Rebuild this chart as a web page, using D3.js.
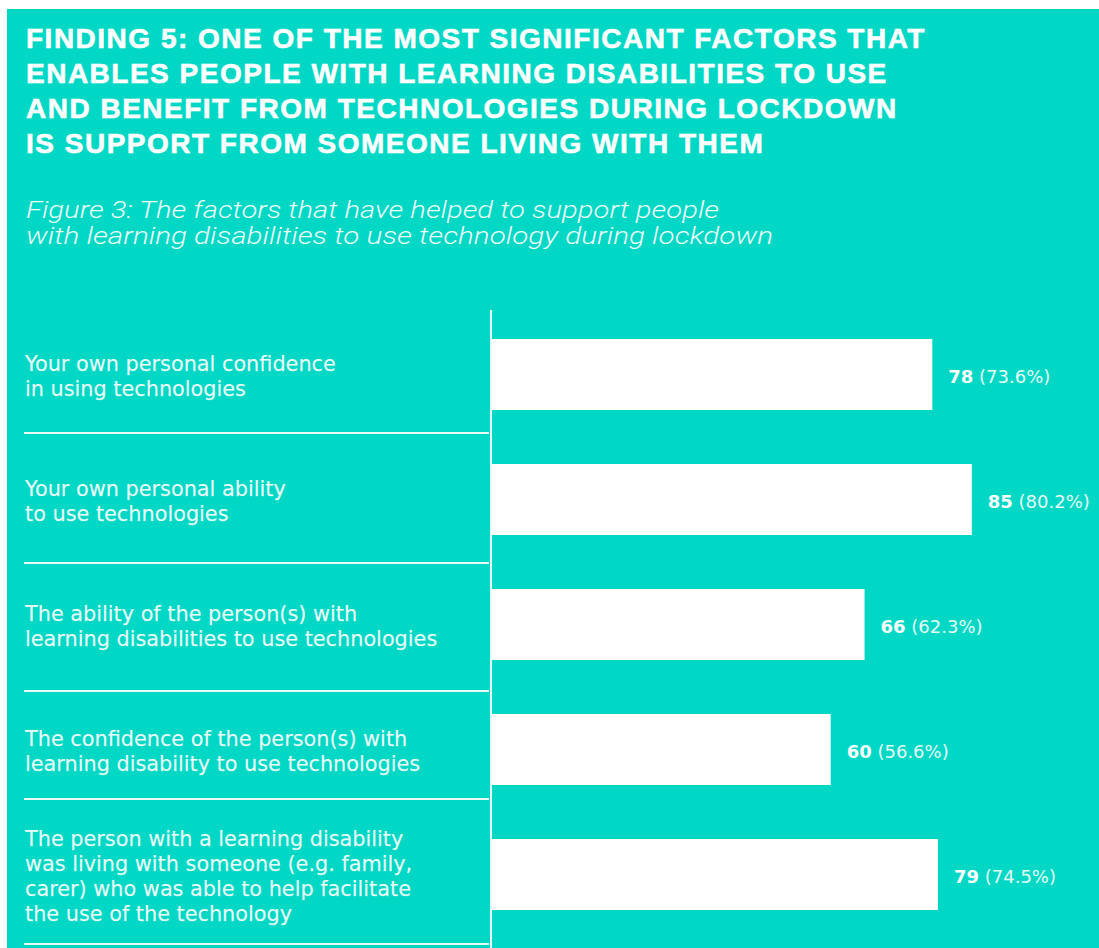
<!DOCTYPE html>
<html>
<head>
<meta charset="utf-8">
<script src="https://cdn.jsdelivr.net/npm/d3@7"></script>
<style>
  html, body { margin: 0; padding: 0; background: #ffffff; }
  svg { display: block; }
</style>
</head>
<body>
<svg id="chart" width="1099" height="948"></svg>
<script>
// Headline and figure caption
const titleLines = [
  "FINDING 5: ONE OF THE MOST SIGNIFICANT FACTORS THAT",
  "ENABLES PEOPLE WITH LEARNING DISABILITIES TO USE",
  "AND BENEFIT FROM TECHNOLOGIES DURING LOCKDOWN",
  "IS SUPPORT FROM SOMEONE LIVING WITH THEM"
];
const captionLines = [
  "Figure 3: The factors that have helped to support people",
  "with learning disabilities to use technology during lockdown"
];

// Factors (line breaks as printed) and the number of respondents for each
const categories = [
  "Your own personal confidence\nin using technologies",
  "Your own personal ability\nto use technologies",
  "The ability of the person(s) with\nlearning disabilities to use technologies",
  "The confidence of the person(s) with\nlearning disability to use technologies",
  "The person with a learning disability\nwas living with someone (e.g. family,\ncarer) who was able to help facilitate\nthe use of the technology"
];
const counts = [78, 85, 66, 60, 79];
const percents = [73.6, 80.2, 62.3, 56.6, 74.5];

// Layout
const W = 1099, H = 948;
const teal = "#00d8c5";
const panel = { x: 7, y: 9 };
const labelX = 25;
const axisX = 491;
const rowRules = [433, 563, 691, 799, 944]; // boundaries of the label table rows
const captionWidths = [693, 747];

const svg = d3.select("#chart");

svg.append("rect")
  .attr("x", panel.x).attr("y", panel.y)
  .attr("width", W - panel.x).attr("height", H - panel.y)
  .attr("fill", teal);

// Headline
svg.append("g")
  .selectAll("text")
  .data(titleLines)
  .join("text")
  .attr("x", 26)
  .attr("y", (d, i) => 48 + i * 35)
  .attr("fill", "#ffffff")
  .attr("stroke", "#ffffff")
  .attr("stroke-width", 0.6)
  .attr("font-family", "'Liberation Sans', Arial, sans-serif")
  .attr("font-weight", 700)
  .attr("font-size", 28)
  .attr("letter-spacing", 1.5)
  .text(d => d);

// Caption
svg.append("g")
  .selectAll("text")
  .data(captionLines)
  .join("text")
  .attr("x", 26)
  .attr("y", (d, i) => 218 + i * 26)
  .attr("fill", "#ffffff")
  .attr("fill-opacity", 0.95)
  .attr("font-family", "Roboto, 'Open Sans', sans-serif")
  .attr("font-style", "italic")
  .attr("font-weight", 300)
  .attr("font-size", 24)
  .attr("textLength", (d, i) => captionWidths[i])
  .attr("lengthAdjust", "spacingAndGlyphs")
  .text(d => d);

// Scales
const y = d3.scaleBand()
  .domain(categories)
  .range([312, 937])
  .paddingInner(0.432)
  .paddingOuter(0.216);

const x = d3.scaleLinear()
  .domain([0, 100])
  .range([axisX + 1, axisX + 1 + 564.5]);

const data = categories.map((c, i) => ({ c, n: counts[i], p: percents[i] }));

// Label table row rules
svg.append("g")
  .selectAll("line")
  .data(rowRules)
  .join("line")
  .attr("x1", labelX - 1)
  .attr("x2", axisX - 2)
  .attr("y1", d => d)
  .attr("y2", d => d)
  .attr("stroke", "#ffffff")
  .attr("stroke-opacity", 0.9)
  .attr("stroke-width", 2);

// Vertical axis line
svg.append("line")
  .attr("x1", axisX).attr("x2", axisX)
  .attr("y1", 310).attr("y2", H)
  .attr("stroke", "#ffffff")
  .attr("stroke-opacity", 0.9)
  .attr("stroke-width", 2);

// Bars
svg.append("g")
  .selectAll("rect")
  .data(data)
  .join("rect")
  .attr("x", x(0))
  .attr("y", d => y(d.c))
  .attr("width", d => x(d.n) - x(0))
  .attr("height", y.bandwidth())
  .attr("fill", "#ffffff");

// Category labels
const lineH = 25;
svg.append("g")
  .selectAll("text")
  .data(data)
  .join("text")
  .attr("fill", "#ffffff")
  .attr("fill-opacity", 0.93)
  .attr("stroke", "#ffffff")
  .attr("stroke-opacity", 0.5)
  .attr("stroke-width", 0.25)
  .attr("font-family", "'DejaVu Sans', sans-serif")
  .attr("font-size", 20.8)
  .each(function (d) {
    const lines = d.c.split("\n");
    const cy = y(d.c) + y.bandwidth() / 2;
    const first = cy - (lines.length - 1) * lineH / 2 + 9;
    d3.select(this).selectAll("tspan")
      .data(lines)
      .join("tspan")
      .attr("x", labelX)
      .attr("y", (l, i) => first + i * lineH)
      .text(l => l);
  });

// Value labels
const vl = svg.append("g")
  .selectAll("text")
  .data(data)
  .join("text")
  .attr("x", d => x(d.n) + 16)
  .attr("y", d => y(d.c) + y.bandwidth() / 2 + 8.5)
  .attr("fill", "#ffffff")
  .attr("font-family", "'DejaVu Sans', sans-serif")
  .attr("font-size", 18);
vl.append("tspan")
  .attr("font-weight", 700)
  .text(d => d.n);
vl.append("tspan")
  .attr("fill-opacity", 0.92)
  .text(d => " (" + d.p.toFixed(1) + "%)");
</script>
</body>
</html>
